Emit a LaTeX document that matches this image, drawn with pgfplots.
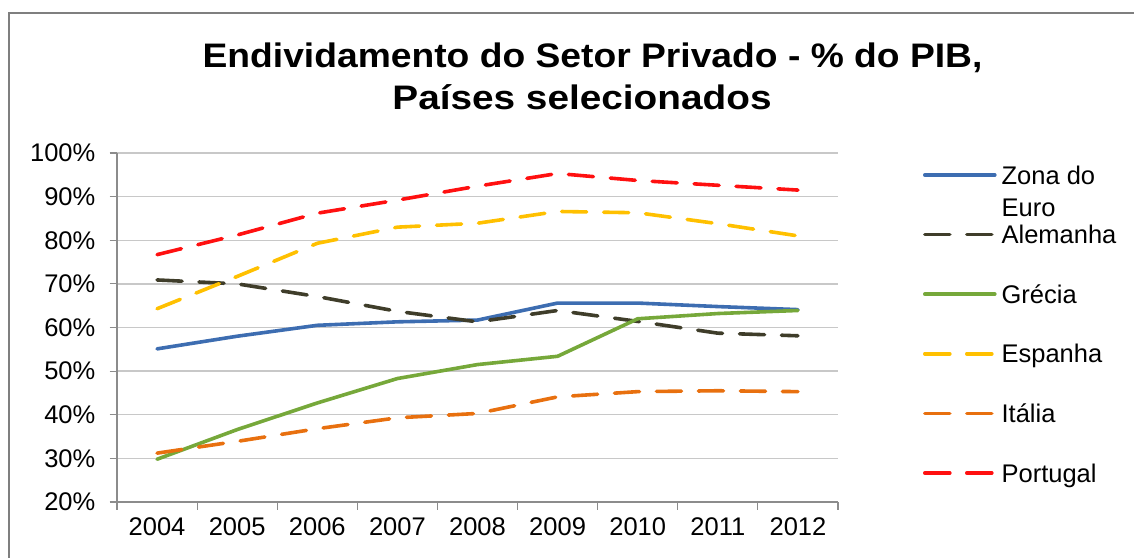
\documentclass[border=0pt]{standalone}
\usepackage{pgfplots}
\pgfplotsset{compat=1.18}
\usepackage{fontspec}
\setmainfont{Liberation Sans}
\definecolor{cblue}{HTML}{3D6DB1}
\definecolor{colive}{HTML}{3F3D2A}
\definecolor{cgreen}{HTML}{76A83A}
\definecolor{cyellow}{HTML}{FFC000}
\definecolor{corange}{HTML}{E8700F}
\definecolor{cred}{HTML}{FF1010}
\definecolor{gridgray}{HTML}{C8C8C8}
\definecolor{axisgray}{HTML}{8C8C8C}
\definecolor{framegray}{HTML}{7F7F7F}
\pgfplotstableread{
x euro alem grec espa ital port
0 55.1 70.9 29.8 64.3 31.2 76.7
1 58.0 70.0 36.6 71.7 33.9 81.2
2 60.5 67.1 42.7 79.3 36.8 86.2
3 61.3 63.7 48.3 83.0 39.3 89.2
4 61.7 61.3 51.5 83.9 40.3 92.4
5 65.6 63.9 53.4 86.6 44.1 95.3
6 65.6 61.4 62.0 86.3 45.3 93.7
7 64.8 58.7 63.2 83.8 45.5 92.6
8 64.1 58.1 63.9 81.0 45.3 91.5
}\datatable
\begin{document}
\begin{tikzpicture}[x=1pt,y=1pt]
\useasboundingbox (0,0) rectangle (1134,557);
\draw[framegray, line width=2pt] (9,-20) -- (9,544) -- (1160,544);
\node[anchor=base, font=\fontsize{34}{40}\selectfont\bfseries] at (592.5,489) {\scalebox{1.095}[1]{Endividamento do Setor Privado - \% do PIB,}};
\node[anchor=base, font=\fontsize{34}{40}\selectfont\bfseries] at (582,447) {\scalebox{1.14}[1]{Países selecionados}};
\begin{axis}[
  at={(117pt,55pt)}, anchor=south west,
  scale only axis, width=721pt, height=349pt,
  xmin=-0.5, xmax=8.5, ymin=20, ymax=100,
  axis x line*=bottom, axis y line*=left,
  axis line style={draw=axisgray, line width=1.2pt},
  xtick={-0.5,0.5,...,8.5},
  x tick label as interval,
  xticklabels={2004,2005,2006,2007,2008,2009,2010,2011,2012},
  ytick={20,30,...,100},
  yticklabel={\pgfmathprintnumber{\tick}\%},
  /pgf/number format/assume math mode=true,
  tick align=outside, major tick length=7.5pt,
  tick style={draw=axisgray, line width=1.2pt},
  ymajorgrids, y grid style={gridgray, line width=1.3pt},
  ticklabel style={font=\fontsize{25.5}{30}\selectfont, inner sep=0pt},
  yticklabel style={xshift=-14pt},
  xticklabel style={yshift=-8pt},
  clip=false,
  legend style={at={(1.1179,0.9742)}, anchor=north west, draw=none, fill=none,
    inner sep=0pt, outer sep=0pt, column sep=5pt, row sep=33.6pt,
    font=\fontsize{25.5}{32}\selectfont,
    nodes={inner sep=0pt, text height=22pt, text depth=4pt}},
  legend cell align=left,
  legend image code/.code={\draw[#1] (0pt,0pt) -- (70pt,0pt);},
  every axis plot/.append style={line width=3.6pt},
  dashed style/.style={dash pattern=on 25pt off 17pt, line cap=round},
]
\addplot[cblue, line cap=round] table[x=x, y=euro] {\datatable};
\addlegendentry{\begin{tabular}[t]{@{}l@{}}Zona do\\Euro\end{tabular}}
\addplot[colive, dashed style] table[x=x, y=alem] {\datatable};
\addlegendentry{Alemanha}
\addplot[cgreen, line cap=round] table[x=x, y=grec] {\datatable};
\addlegendentry{Grécia}
\addplot[cyellow, dashed style] table[x=x, y=espa] {\datatable};
\addlegendentry{Espanha}
\addplot[corange, dashed style] table[x=x, y=ital] {\datatable};
\addlegendentry{Itália}
\addplot[cred, dashed style] table[x=x, y=port] {\datatable};
\addlegendentry{Portugal}
\end{axis}
\end{tikzpicture}
\end{document}
